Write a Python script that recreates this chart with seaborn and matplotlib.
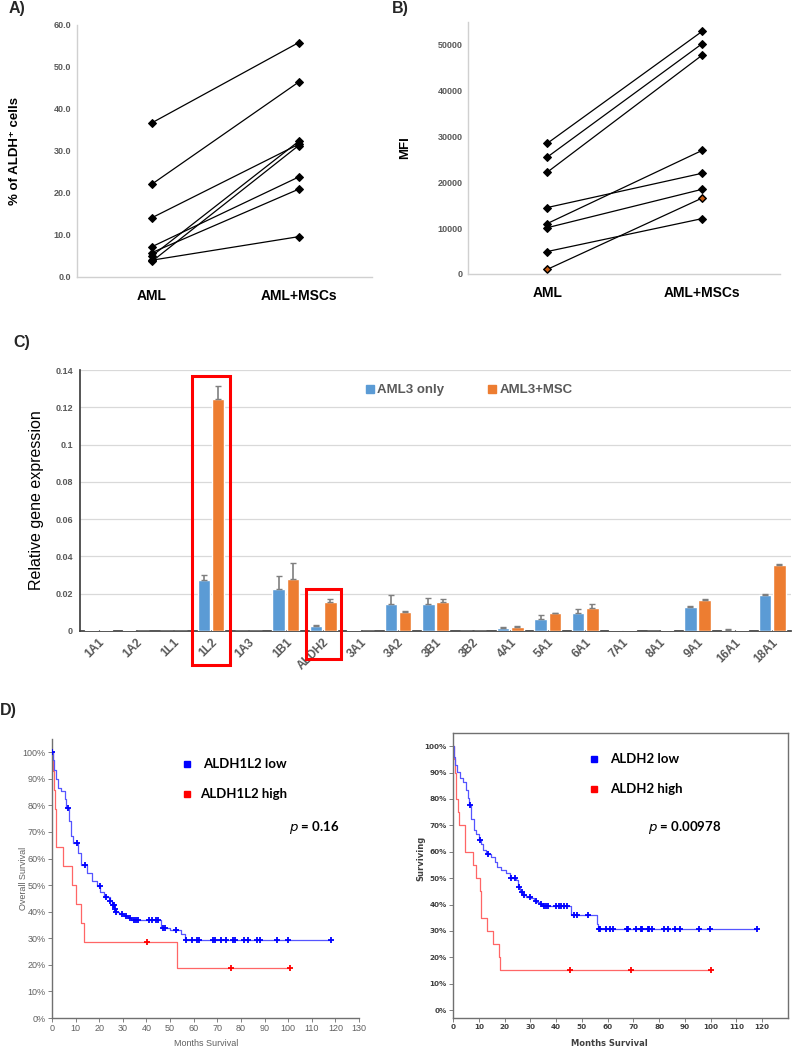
import numpy as np
import pandas as pd
import matplotlib
matplotlib.use('Agg')
import matplotlib.pyplot as plt
import seaborn as sns
from matplotlib.patches import Rectangle
from matplotlib.lines import Line2D
from matplotlib.transforms import ScaledTranslation

sns.set_theme(style='white')
plt.rcParams['font.family'] = ['Liberation Sans', 'DejaVu Sans']

# ---------------- data ----------------
conditions = ['AML', 'AML+MSCs']
aldh_pct_aml = [36.7, 22.1, 14.1, 7.2, 5.8, 5.0, 3.7, 4.0]
aldh_pct_msc = [55.8, 46.4, 31.6, 23.8, 20.9, 32.3, 31.3, 9.6]

mfi_aml = [28500, 25500, 22200, 14500, 11000, 10100, 4900, 1000]
mfi_msc = [53000, 50300, 47800, 22000, 27000, 18500, 12100, 16600]

genes = ['1A1', '1A2', '1L1', '1L2', '1A3', '1B1', 'ALDH2', '3A1', '3A2', '3B1',
         '3B2', '4A1', '5A1', '6A1', '7A1', '8A1', '9A1', '16A1', '18A1']
aml3_only = [0.0003, 0.0003, 0.0, 0.0276, 0.0002, 0.0227, 0.0028, 0.0004, 0.0144, 0.0146,
             0.0002, 0.0018, 0.0066, 0.0095, 0.0003, 0.0002, 0.0131, 0.0008, 0.0195]
aml3_msc = [0.0006, 0.0002, 0.0, 0.1244, 0.0002, 0.0280, 0.0155, 0.0, 0.0104, 0.0156,
            0.0, 0.0022, 0.0096, 0.0124, 0.0005, 0.0003, 0.0166, 0.0003, 0.0353]
err_only = [0, 0, 0, 0.0023, 0, 0.0067, 0.0002, 0, 0.0051, 0.0032,
            0, 0.0006, 0.0019, 0.0025, 0, 0, 0.0002, 0.0002, 0.0004]
err_msc = [0, 0, 0, 0.0070, 0, 0.0086, 0.0014, 0, 0.0003, 0.0016,
           0, 0.0003, 0.0003, 0.0020, 0, 0, 0.0006, 0, 0.0004]
highlight_genes = ['1L2', 'ALDH2']

# KM ALDH1L2
l2_low_t = [0.4, 0.8, 1.5, 2.5, 4.0, 5.3, 6.0, 7.3, 8.0, 9.0, 11.0, 12.2, 15.0, 17.0, 19.0,
            20.5, 22.0, 24.5, 25.5, 26.3, 27.0, 28.5, 30.5, 32.0, 33.5, 35.0, 46.0, 50.0, 54.8, 56.3]
l2_low_s = [97.0, 93.5, 90.0, 86.5, 85.5, 82.5, 79.0, 74.0, 68.5, 66.0, 62.0, 57.5, 54.5, 51.5, 49.5,
            47.5, 45.7, 44.0, 42.5, 41.2, 40.0, 39.2, 38.3, 37.6, 37.0, 36.7, 34.0, 33.0, 31.5, 29.3]
l2_low_cens = [0.2, 6.8, 10.6, 14.1, 20.2, 22.8, 24.6, 25.8, 26.2, 26.6, 27.2, 29.7, 31.5, 33.0, 34.6,
               35.6, 36.5, 41.0, 42.4, 44.0, 45.0, 47.0, 48.0, 52.7, 56.9, 59.3, 61.6, 62.3, 68.0,
               69.0, 71.5, 73.5, 76.7, 77.6, 81.5, 83.2, 86.6, 88.2, 95.4, 99.9, 118.1]
l2_high_t = [0.3, 0.8, 1.2, 1.5, 1.8, 4.6, 8.3, 10.0, 12.2, 13.6, 52.8]
l2_high_s = [92.9, 85.7, 78.6, 71.4, 64.3, 57.1, 50.0, 42.9, 35.7, 28.6, 19.0]
l2_high_cens = [40.4, 75.7, 100.7]

# KM ALDH2
a2_low_t = [0.26, 0.65, 1.55, 2.6, 3.9, 4.9, 5.7, 6.2, 7.1, 8.0, 9.1, 10.0, 10.7, 11.7, 12.7,
            14.9, 16.2, 17.2, 18.8, 20.5, 22.0, 24.6, 25.2, 26.1, 26.9, 28.5, 30.2, 31.3, 32.4,
            33.7, 34.7, 45.6, 55.7, 56.4]
a2_low_s = [96.0, 92.8, 90.3, 88.1, 86.5, 83.3, 80.2, 77.7, 72.6, 68.2, 66.9, 64.4, 62.8, 60.6, 59.3,
            58.1, 56.2, 54.3, 53.0, 51.8, 50.1, 49.2, 46.7, 44.8, 43.6, 42.9, 42.3, 41.4, 40.8,
            40.2, 39.6, 36.0, 32.8, 30.6]
a2_low_cens = [6.5, 10.4, 13.6, 22.4, 24.2, 25.6, 26.8, 27.4, 29.8, 32.1, 34.3, 35.2, 36.0, 36.9,
               40.1, 41.2, 41.8, 43.0, 44.4, 46.9, 48.3, 52.4, 56.6, 57.2, 59.5, 61.1, 62.1, 67.6,
               68.1, 71.2, 73.0, 73.4, 75.7, 76.1, 77.2, 81.8, 83.4, 86.3, 88.2, 95.4, 99.7, 118.1]
a2_high_t = [0.3, 0.6, 1.0, 1.3, 1.9, 2.3, 4.5, 4.8, 7.8, 9.1, 10.5, 10.7, 11.0, 13.2, 15.5, 17.7, 18.4]
a2_high_s = [95, 90, 85, 80, 75, 70, 65, 60, 55, 50, 45, 40, 35, 30, 25, 20, 15]
a2_high_cens = [45.3, 68.9, 100.3]

# ---------------- figure ----------------
W, H = 794, 1049
fig = plt.figure(figsize=(W / 100, H / 100), dpi=100)


def box(l, t, r, b):
    return [l / W, 1 - b / H, (r - l) / W, (b - t) / H]


GRAY = '#595959'
BLUE_BAR = '#5B9BD5'
ORANGE_BAR = '#ED7D31'


def paired_panel(rect, aml, msc, ylim, yticks, yticklabels, ylabel, ylabel_x, orange_idx=None):
    ax = fig.add_axes(rect)
    n = len(aml)
    df = pd.DataFrame({
        'sample': list(range(n)) * 2,
        'cond': [conditions[0]] * n + [conditions[1]] * n,
        'val': list(aml) + list(msc),
    })
    sns.lineplot(data=df, x='cond', y='val', units='sample', estimator=None,
                 color='black', lw=0.9, marker='D', markersize=4.3,
                 markeredgecolor='black', ax=ax)
    if orange_idx is not None:
        sub = df[df['sample'] == orange_idx]
        sns.scatterplot(data=sub, x='cond', y='val', marker='D', s=11,
                        color='#C55A11', edgecolor='black', linewidth=0.6, ax=ax, zorder=5)
    ax.set_xlim(-0.51, 1.5)
    ax.set_ylim(*ylim)
    ax.set_yticks(yticks)
    ax.set_yticklabels(yticklabels, fontsize=6.5, fontweight='bold', color=GRAY)
    ax.set_xticks([0, 1])
    ax.set_xticklabels(conditions, fontsize=10, fontweight='bold', color='black')
    for lbl in ax.get_xticklabels():
        lbl.set_transform(lbl.get_transform() + ScaledTranslation(-0.12, 0, fig.dpi_scale_trans))
    ax.tick_params(axis='x', length=0, pad=9)
    ax.tick_params(axis='y', length=0, pad=4)
    ax.set_xlabel('')
    ax.set_ylabel('')
    for s in ['top', 'right']:
        ax.spines[s].set_visible(False)
    for s in ['left', 'bottom']:
        ax.spines[s].set_color('#d0d0d0')
        ax.spines[s].set_linewidth(1)
    fig.text(ylabel_x / W, (rect[1] + rect[3] / 2), ylabel, rotation=90, ha='center', va='center',
             fontsize=9.5, fontweight='bold', color='black')
    return ax


axA = paired_panel(box(77, 25, 372, 277), aldh_pct_aml, aldh_pct_msc, (0, 60),
                   np.arange(0, 61, 10), [f'{v:.1f}' for v in np.arange(0, 61, 10)],
                   '% of ALDH\u207a cells', 15)
axB = paired_panel(box(468, 22, 780, 274), mfi_aml, mfi_msc, (0, 55000),
                   np.arange(0, 50001, 10000), [str(v) for v in np.arange(0, 50001, 10000)],
                   'MFI', 405, orange_idx=7)

fig.text(9 / W, 1 - 9 / H, 'A)', fontsize=11.5, fontweight='bold', va='center', ha='left')
fig.text(392 / W, 1 - 9 / H, 'B)', fontsize=11.5, fontweight='bold', va='center', ha='left')
fig.text(13 / W, 1 - 343 / H, 'C)', fontsize=11.5, fontweight='bold', va='center', ha='left')
fig.text(0 / W, 1 - 710 / H, 'D)', fontsize=11.5, fontweight='bold', va='center', ha='left')

# ---------------- panel C ----------------
axC = fig.add_axes(box(80, 370, 791, 631))
dfc = pd.DataFrame({
    'gene': genes * 2,
    'group': ['AML3 only'] * len(genes) + ['AML3+MSC'] * len(genes),
    'value': aml3_only + aml3_msc,
})
sns.barplot(data=dfc, x='gene', y='value', hue='group', palette=[BLUE_BAR, ORANGE_BAR],
            saturation=1, width=0.76, gap=0.12, errorbar=None, legend=False, ax=axC, zorder=3)
for cont, errs in zip(axC.containers, [err_only, err_msc]):
    xs, ys, es = [], [], []
    for bar, e in zip(cont, errs):
        if e > 0:
            xs.append(bar.get_x() + bar.get_width() / 2)
            ys.append(bar.get_height())
            es.append(e)
    axC.errorbar(xs, ys, yerr=[np.zeros(len(es)), es], fmt='none', ecolor='#7f7f7f',
                 elinewidth=1.2, capsize=2.2, capthick=1, zorder=4)
axC.set_xlim(-0.5, len(genes) - 0.5)
axC.set_ylim(0, 0.14)
cticks = [0, 0.02, 0.04, 0.06, 0.08, 0.1, 0.12, 0.14]
axC.set_yticks(cticks)
axC.set_yticklabels(['0', '0.02', '0.04', '0.06', '0.08', '0.1', '0.12', '0.14'],
                    fontsize=6.5, fontweight='bold', color=GRAY)
axC.set_xticks(range(len(genes)))
axC.set_xticklabels(genes, rotation=45, ha='right', rotation_mode='anchor',
                    fontsize=8.5, fontweight='bold', color=GRAY)
axC.tick_params(axis='x', length=0, pad=4)
axC.tick_params(axis='y', length=0, pad=5)
axC.yaxis.grid(True, color='#d9d9d9', lw=0.9)
axC.set_axisbelow(True)
for s in ['top', 'right']:
    axC.spines[s].set_visible(False)
axC.spines['left'].set_color('#404040')
axC.spines['bottom'].set_color('#404040')
axC.set_xlabel('')
axC.set_ylabel('Relative gene expression', fontsize=11.5, color='black', labelpad=8)
handles = [Line2D([], [], marker='s', ls='none', color=BLUE_BAR, markersize=6),
           Line2D([], [], marker='s', ls='none', color=ORANGE_BAR, markersize=6)]
axC.legend(handles, ['AML3 only', 'AML3+MSC'], loc='center', bbox_to_anchor=(0.546, 0.923),
           ncol=2, frameon=False, columnspacing=3.2, handletextpad=0.1, handlelength=0.9,
           prop={'weight': 'bold', 'size': 9.5}, labelcolor=GRAY)
i1 = genes.index(highlight_genes[0])
i2 = genes.index(highlight_genes[1])
axC.add_patch(Rectangle((i1 - 0.5, -0.0182), 1.0, 0.155, fill=False, edgecolor='#FF0000',
                        lw=2.2, clip_on=False, zorder=6))
axC.add_patch(Rectangle((i2 - 0.47, -0.0150), 0.94, 0.0375, fill=False, edgecolor='#FF0000',
                        lw=2.2, clip_on=False, zorder=6))


# ---------------- panel D ----------------
def step_at(times, surv, q):
    idx = np.searchsorted(np.asarray(times), q, side='right') - 1
    s = np.asarray(surv)
    return np.where(idx >= 0, s[np.clip(idx, 0, None)], 100.0)


def km_panel(rect, low_t, low_s, low_c, high_t, high_s, high_c, xlim, ylim, xticks, tick_font):
    ax = fig.add_axes(rect)
    for t, s, c, lc, mc in [(high_t, high_s, high_c, '#FF6666', '#FF0000'),
                            (low_t, low_s, low_c, '#5555FF', '#0000FF')]:
        end = max(c)
        xs = [0.0] + list(t) + [end]
        ys = [100.0] + list(s) + [s[-1]]
        sns.lineplot(x=xs, y=ys, drawstyle='steps-post', estimator=None, sort=False,
                     color=lc, lw=0.9, ax=ax)
        cy = step_at(t, s, np.asarray(c))
        sns.scatterplot(x=list(c), y=list(cy), marker='+', s=15, color=mc, linewidth=1.3,
                        ax=ax, zorder=5)
    ax.set_xlim(*xlim)
    ax.set_ylim(*ylim)
    ax.set_xticks(xticks)
    ax.set_xticklabels([str(v) for v in xticks], **tick_font)
    ax.set_yticks(range(0, 101, 10))
    ax.set_yticklabels([f'{v}%' for v in range(0, 101, 10)], **tick_font)
    ax.tick_params(axis='both', length=3, width=0.7, color='#808080', pad=1.5, direction='out',
                   bottom=True, left=True)
    ax.set_xlabel('')
    ax.set_ylabel('')
    return ax


narrow = ['Liberation Sans Narrow', 'Liberation Sans']
km_font_left = dict(fontsize=6.5, color='#606060', family=narrow)
axD1 = km_panel(box(52, 739, 359, 1018), l2_low_t, l2_low_s, l2_low_cens,
                l2_high_t, l2_high_s, l2_high_cens, (0, 130), (0, 105),
                list(range(0, 131, 10)), km_font_left)
for s in ['top', 'right']:
    axD1.spines[s].set_visible(False)
for s in ['left', 'bottom']:
    axD1.spines[s].set_color('#707070')
    axD1.spines[s].set_linewidth(1)
fig.text(23 / W, 1 - 878 / H, 'Overall Survival', rotation=90, ha='center', va='center',
         fontsize=6.5, color='#606060', family=narrow)
fig.text(206 / W, 1 - 1043 / H, 'Months Survival', ha='center', va='center',
         fontsize=6.5, color='#606060', family=narrow)

km_font_right = dict(fontsize=5.2, color='#404040', fontweight='bold', family=['DejaVu Sans'])
axD2 = km_panel(box(453, 733, 788, 1018), a2_low_t, a2_low_s, a2_low_cens,
                a2_high_t, a2_high_s, a2_high_cens, (0, 130), (-3, 105),
                list(range(0, 121, 10)), km_font_right)
for s in ['top', 'right', 'left', 'bottom']:
    axD2.spines[s].set_visible(True)
    axD2.spines[s].set_color('#707070')
    axD2.spines[s].set_linewidth(1)
fig.text(421 / W, 1 - 858 / H, 'Surviving', rotation=90, ha='center', va='center',
         fontsize=6, fontweight='bold', color='#404040', family=['DejaVu Sans'])
fig.text(609 / W, 1 - 1043 / H, 'Months Survival', ha='center', va='center',
         fontsize=6, fontweight='bold', color='#404040', family=['DejaVu Sans'])

# KM legends and p-values
leg_font = dict(fontsize=9.5, fontweight='bold', color='black', family=['Lato', 'DejaVu Sans'])
for (sx, sy, tx, label, col) in [(187, 764, 203, 'ALDH1L2 low', '#0000FF'),
                                 (187, 794, 200, 'ALDH1L2 high', '#FF0000'),
                                 (594, 759, 610, 'ALDH2 low', '#0000FF'),
                                 (594, 789, 610, 'ALDH2 high', '#FF0000')]:
    fig.add_artist(Line2D([sx / W], [1 - sy / H], marker='s', color=col, markersize=5,
                          ls='none'))
    fig.text(tx / W, 1 - sy / H, label, ha='left', va='center', **leg_font)

fig.text(289 / W, 1 - 828 / H, r'$\it{p}$ = 0.16', ha='left', va='center', **leg_font)
fig.text(648 / W, 1 - 828 / H, r'$\it{p}$ = 0.00978', ha='left', va='center', **leg_font)

fig.savefig('out.png', dpi=100)
